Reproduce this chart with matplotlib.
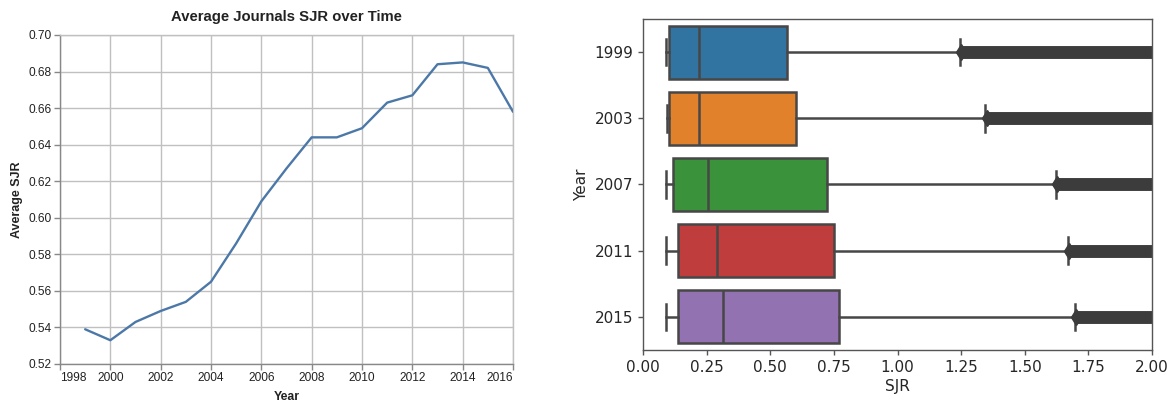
import matplotlib
matplotlib.use("Agg")
import matplotlib.pyplot as plt
from matplotlib.lines import Line2D
import numpy as np

# Yearly mean SJR across all journals
years = [1999, 2000, 2001, 2002, 2003, 2004, 2005, 2006, 2007,
         2008, 2009, 2010, 2011, 2012, 2013, 2014, 2015, 2016]
avg_sjr = [0.539, 0.533, 0.543, 0.549, 0.554, 0.565, 0.586, 0.609, 0.627,
           0.644, 0.644, 0.649, 0.663, 0.667, 0.684, 0.685, 0.682, 0.658]

# SJR distribution summaries for selected years
box_years = ["1999", "2003", "2007", "2011", "2015"]
whisker_low = [0.092, 0.095, 0.092, 0.092, 0.092]
q1 = [0.103, 0.103, 0.119, 0.136, 0.139]
median = [0.219, 0.219, 0.254, 0.290, 0.316]
q3 = [0.567, 0.601, 0.723, 0.752, 0.769]
whisker_high = [1.245, 1.345, 1.621, 1.669, 1.698]
outlier_start = [1.250, 1.350, 1.626, 1.674, 1.703]
box_colors = ["#3274a1", "#e1812c", "#3a923a", "#c03d3e", "#9372b2"]

fig = plt.figure(figsize=(11.75, 4.03), dpi=100)

# ---- left: line chart -------------------------------------------------
vega_font = "Liberation Sans"
ax1 = fig.add_axes([60 / 1175, 39 / 403, 453 / 1175, 329 / 403])
ax1.plot(years, avg_sjr, color="#4c78a8", lw=1.7, solid_capstyle="round",
         solid_joinstyle="round", zorder=3)
ax1.set_xlim(1998, 2016)
ax1.set_ylim(0.52, 0.70)
ax1.set_xticks(np.arange(1998, 2017, 2))
ax1.set_yticks(np.round(np.arange(0.52, 0.7001, 0.02), 2))
ax1.grid(True, color="#c0c0c0", lw=1.0)
ax1.set_axisbelow(True)
for side in ("top", "right"):
    ax1.spines[side].set_color("#c0c0c0")
    ax1.spines[side].set_linewidth(1.0)
for side in ("left", "bottom"):
    ax1.spines[side].set_color("#888888")
    ax1.spines[side].set_linewidth(1.0)
ax1.tick_params(axis="both", length=4, width=1, color="#888888",
                labelsize=8.6, labelcolor="#222222", pad=2)
ax1.set_yticklabels([f"{v:.2f}" for v in ax1.get_yticks()], fontfamily=vega_font)
xlabels = ax1.set_xticklabels([str(int(v)) for v in ax1.get_xticks()],
                              fontfamily=vega_font)
xlabels[0].set_ha("left")
xlabels[-1].set_ha("right")
ax1.set_xlabel("Year", fontfamily=vega_font, fontweight="bold", fontsize=8.8,
               color="#222222", labelpad=5)
ax1.set_ylabel("Average SJR", fontfamily=vega_font, fontweight="bold",
               fontsize=9.0, color="#222222", labelpad=4)
ax1.set_title("Average Journals SJR over Time", fontfamily=vega_font,
              fontweight="bold", fontsize=10.7, color="#222222", pad=10)

# ---- right: box plots ---------------------------------------------------
ax2 = fig.add_axes([643 / 1175, 53 / 403, 509 / 1175, 331 / 403])
line_col = "#474747"
positions = list(range(len(box_years)))
stats = [dict(whislo=lo, q1=a, med=m, q3=b, whishi=hi, fliers=[])
         for lo, a, m, b, hi in zip(whisker_low, q1, median, q3, whisker_high)]
bp = ax2.bxp(stats, positions=positions, orientation="horizontal", widths=0.8,
             capwidths=0.4, patch_artist=True, showfliers=False)
for patch, col in zip(bp["boxes"], box_colors):
    patch.set_facecolor(col)
    patch.set_edgecolor(line_col)
    patch.set_linewidth(1.8)
for key in ("whiskers", "caps", "medians"):
    for ln in bp[key]:
        ln.set_color(line_col)
        ln.set_linewidth(1.8)

x_max = 2.0
flier_col = "#3c3c3c"
for pos, start in zip(positions, outlier_start):
    ax2.add_line(Line2D([start, x_max + 0.1], [pos, pos], color=flier_col,
                        lw=9.3, solid_capstyle="butt", zorder=2))
    ax2.plot([start], [pos], marker="d", ms=8, color=flier_col,
             mec=flier_col, zorder=2)

ax2.set_xlim(0, x_max)
ax2.set_ylim(len(box_years) - 0.5, -0.5)
ax2.set_xticks(np.arange(0, 2.001, 0.25))
ax2.set_xticklabels([f"{v:.2f}" for v in np.arange(0, 2.001, 0.25)])
ax2.set_yticks(positions)
ax2.set_yticklabels(box_years)
for side in ax2.spines.values():
    side.set_color("#555555")
    side.set_linewidth(1.0)
ax2.tick_params(axis="both", labelsize=11, labelcolor="#262626",
                color="#555555", length=3.5, width=1)
ax2.set_xlabel("SJR", fontsize=11, color="#262626", labelpad=3)
ax2.set_ylabel("Year", fontsize=11, color="#262626", labelpad=4)

fig.savefig("out.png", dpi=100)
